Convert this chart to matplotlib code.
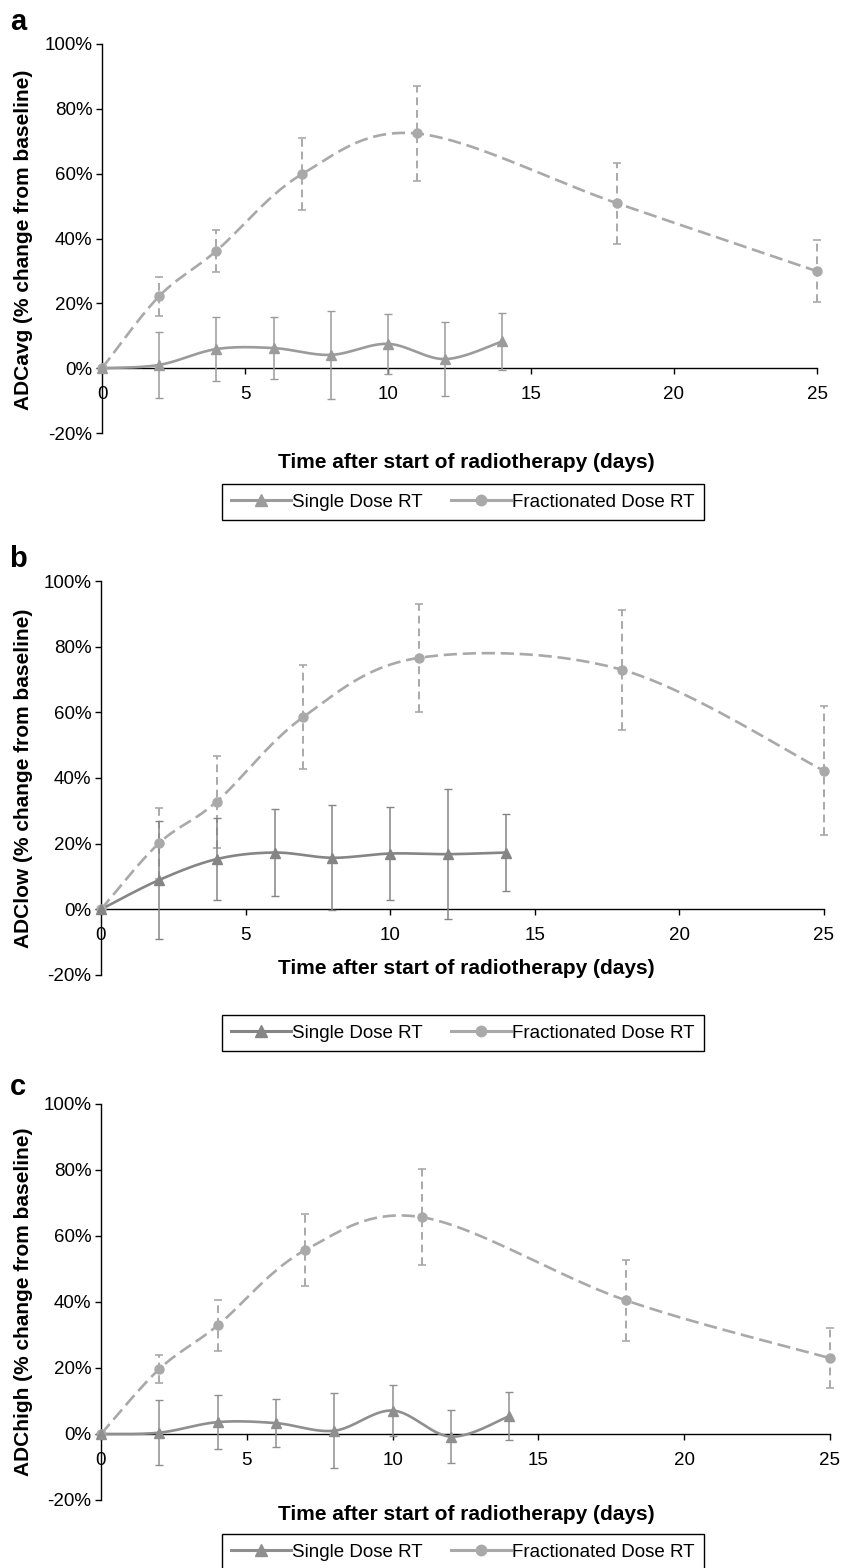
import numpy as np
import matplotlib
matplotlib.use("Agg")
import matplotlib.pyplot as plt
from matplotlib.lines import Line2D
from matplotlib.ticker import FuncFormatter

plt.rcParams['font.family'] = ['Liberation Sans', 'DejaVu Sans']
plt.rcParams['axes.unicode_minus'] = False

W, H = 841, 1568

SINGLE_DAYS = [0, 2, 4, 6, 8, 10, 12, 14]
FRAC_DAYS = [0, 2, 4, 7, 11, 18, 25]

# ADCavg
avg_single = [0, 1.0, 5.9, 6.2, 4.1, 7.5, 2.8, 8.3]
avg_single_err = [0, 10.3, 10.0, 9.5, 13.6, 9.3, 11.4, 8.8]
avg_frac = [0, 22.2, 36.2, 59.9, 72.4, 50.9, 29.9]
avg_frac_err = [0, 6.0, 6.5, 11.0, 14.7, 12.5, 9.6]

# ADClow
low_single = [0, 8.9, 15.3, 17.3, 15.7, 17.0, 16.8, 17.3]
low_single_err = [0, 17.9, 12.5, 13.2, 16.0, 14.2, 19.8, 11.6]
low_frac = [0, 20.1, 32.8, 58.6, 76.6, 73.0, 42.2]
low_frac_err = [0, 10.8, 14.0, 15.8, 16.4, 18.3, 19.6]

# ADChigh
high_single = [0, 0.4, 3.6, 3.3, 1.0, 7.1, -0.8, 5.4]
high_single_err = [0, 9.9, 8.1, 7.2, 11.4, 7.7, 8.0, 7.3]
high_frac = [0, 19.7, 32.9, 55.7, 65.7, 40.5, 23.0]
high_frac_err = [0, 4.2, 7.8, 10.9, 14.5, 12.3, 9.0]

Y_LABELS = ["ADCavg (% change from baseline)",
            "ADClow (% change from baseline)",
            "ADChigh (% change from baseline)"]
X_LABEL = "Time after start of radiotherapy (days)"
LEGEND_NAMES = ["Single Dose RT", "Fractionated Dose RT"]
PANEL_LETTERS = ["a", "b", "c"]

FRAC_COLOR = "#a9a9a9"


def px_box(left, right, top, bottom):
    return [left / W, 1 - bottom / H, (right - left) / W, (bottom - top) / H]


def smooth(x, y, n=40):
    # excel style smoothed line: bezier segments, control points from neighbours
    x = np.asarray(x, float)
    y = np.asarray(y, float)
    xs, ys = [], []
    for i in range(len(x) - 1):
        i0 = max(i - 1, 0)
        i3 = min(i + 2, len(x) - 1)
        c1x = x[i] + (x[i + 1] - x[i0]) / 6
        c1y = y[i] + (y[i + 1] - y[i0]) / 6
        c2x = x[i + 1] - (x[i3] - x[i]) / 6
        c2y = y[i + 1] - (y[i3] - y[i]) / 6
        t = np.linspace(0, 1, n)
        a, b, c, d = (1 - t) ** 3, 3 * (1 - t) ** 2 * t, 3 * (1 - t) * t ** 2, t ** 3
        xs.append(a * x[i] + b * c1x + c * c2x + d * x[i + 1])
        ys.append(a * y[i] + b * c1y + c * c2y + d * y[i + 1])
    return np.concatenate(xs), np.concatenate(ys)


def draw_panel(ax, single, single_err, frac, frac_err, single_color):
    # fractionated: dashed
    sx, sy = smooth(FRAC_DAYS, frac)
    ax.plot(sx, sy, color=FRAC_COLOR, lw=1.9, dashes=(5, 2.2), zorder=3, clip_on=False)
    eb = ax.errorbar(FRAC_DAYS[1:], frac[1:], yerr=frac_err[1:], fmt="none",
                     ecolor=FRAC_COLOR, elinewidth=1.4, capsize=3.2, capthick=1.2, zorder=3)
    eb[2][0].set_linestyle((0, (4, 2.5)))
    for art in eb.get_children():
        art.set_clip_on(False)
    ax.plot(FRAC_DAYS, frac, "o", color=FRAC_COLOR, ms=6.5, zorder=4, clip_on=False)

    # single dose: solid
    sx, sy = smooth(SINGLE_DAYS, single)
    ax.plot(sx, sy, color=single_color, lw=1.9, zorder=3, clip_on=False)
    eb = ax.errorbar(SINGLE_DAYS[1:], single[1:], yerr=single_err[1:], fmt="none",
                     ecolor=single_color, elinewidth=1.1, capsize=3.2, capthick=1.0, zorder=3)
    for art in eb.get_children():
        art.set_clip_on(False)
    ax.plot(SINGLE_DAYS, single, "^", color=single_color, ms=7, zorder=4, clip_on=False)

    ax.set_xlim(0, 25)
    ax.set_ylim(-20, 100)
    ax.set_xticks([0, 5, 10, 15, 20, 25])
    ax.set_yticks(range(-20, 101, 20))
    ax.yaxis.set_major_formatter(FuncFormatter(lambda v, p: "%d%%" % v))
    ax.spines["top"].set_visible(False)
    ax.spines["right"].set_visible(False)
    ax.spines["bottom"].set_position(("data", 0))
    ax.spines["left"].set_linewidth(1.0)
    ax.spines["bottom"].set_linewidth(1.0)
    ax.tick_params(axis="both", labelsize=13.5, length=4, width=1.0, direction="out", pad=3)
    ax.tick_params(axis="x", pad=9)
    ax.patch.set_alpha(0)


fig = plt.figure(figsize=(W / 100, H / 100), dpi=100)

boxes = [px_box(102, 817, 44, 433), px_box(101, 824, 581, 975), px_box(101, 830, 1104, 1500)]
panels = [(avg_single, avg_single_err, avg_frac, avg_frac_err, "#9b9b9b"),
          (low_single, low_single_err, low_frac, low_frac_err, "#858585"),
          (high_single, high_single_err, high_frac, high_frac_err, "#8f8f8f")]
ylabel_y = [240, 778, 1302]
xlabel_y = [462, 968, 1515]
legend_y = [502, 1033, 1552]
letter_y = [22, 559, 1087]

for i in range(3):
    ax = fig.add_axes(boxes[i])
    single, single_err, frac, frac_err, scol = panels[i]
    draw_panel(ax, single, single_err, frac, frac_err, scol)

    fig.text(24 / W, 1 - ylabel_y[i] / H, Y_LABELS[i], rotation=90, ha="center", va="center",
             fontsize=15, fontweight="bold")
    fig.text(466 / W, 1 - xlabel_y[i] / H, X_LABEL, ha="center", va="center",
             fontsize=15, fontweight="bold")
    fig.text(18 / W, 1 - letter_y[i] / H, PANEL_LETTERS[i], ha="center", va="center",
             fontsize=21, fontweight="bold")

    handles = [Line2D([], [], color=scol, lw=2.2, marker="^", ms=8),
               Line2D([], [], color=FRAC_COLOR, lw=2.2, marker="o", ms=7.5)]
    leg = fig.legend(handles, LEGEND_NAMES, loc="center", bbox_to_anchor=(463 / W, 1 - legend_y[i] / H),
                     ncol=2, fontsize=13.5, frameon=True, fancybox=False, framealpha=1,
                     edgecolor="black", handlelength=3.2, handletextpad=0.05, columnspacing=1.5,
                     borderpad=0.5, borderaxespad=0)
    leg.get_frame().set_linewidth(1.0)

fig.savefig("out.png", dpi=100)
